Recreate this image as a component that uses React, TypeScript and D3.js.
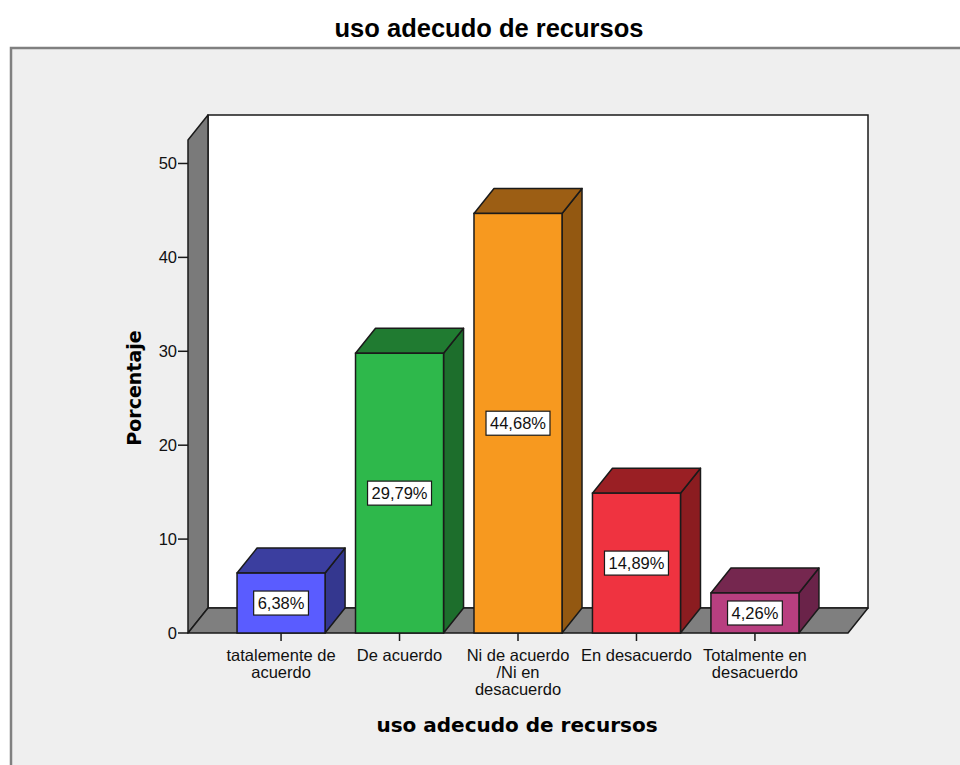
import React, { useEffect, useRef } from 'react';
import * as d3 from 'd3';

const categories = [
  ['tatalemente de', 'acuerdo'],
  ['De acuerdo'],
  ['Ni de acuerdo', '/Ni en', 'desacuerdo'],
  ['En desacuerdo'],
  ['Totalmente en', 'desacuerdo'],
];
const values = [6.38, 29.79, 44.68, 14.89, 4.26];
const valueLabels = ['6,38%', '29,79%', '44,68%', '14,89%', '4,26%'];
const yTicks = [0, 10, 20, 30, 40, 50];

// front / top / side colours per bar
const frontColors = ['#5a5cff', '#2eb84b', '#f7991f', '#ef3340', '#b83f80'];
const topColors = ['#3b3e9f', '#207b31', '#9c5e14', '#9a1f24', '#75274f'];
const sideColors = ['#34378f', '#1d6e2c', '#935811', '#8b1c20', '#6a2349'];

const App: React.FC = () => {
  const svgRef = useRef<SVGSVGElement>(null);

  useEffect(() => {
    if (!svgRef.current) return;
    const W = 960;
    const H = 765;
    const svg = d3.select(svgRef.current).attr('width', W).attr('height', H);
    svg.selectAll('*').remove();

    const left = 188;
    const right = 848;
    const base = 633;
    const top = 140;
    const dx = 20;
    const dy = -25;
    const line = '#1a1a1a';
    const small = '"Liberation Sans", Arial, sans-serif';
    const heavy = '"DejaVu Sans", sans-serif';

    const y = d3.scaleLinear().domain([0, 52.5]).range([base, top]);
    const x = d3
      .scaleBand<number>()
      .domain(d3.range(values.length))
      .range([left, right])
      .paddingInner(0.257)
      .paddingOuter(0.414);

    svg.append('rect').attr('width', W).attr('height', H).attr('fill', '#ffffff');

    // outer frame
    svg.append('rect')
      .attr('x', 11).attr('y', 48).attr('width', 1000).attr('height', 800)
      .attr('fill', '#efefef').attr('stroke', '#808080').attr('stroke-width', 2.5);

    svg.append('text')
      .attr('x', 489).attr('y', 37)
      .attr('text-anchor', 'middle')
      .attr('font-family', small)
      .attr('font-weight', 'bold').attr('font-size', 25.5)
      .attr('fill', '#000')
      .text('uso adecudo de recursos');

    // back wall
    svg.append('rect')
      .attr('x', left + dx).attr('y', top + dy)
      .attr('width', right - left).attr('height', base - top)
      .attr('fill', '#ffffff').attr('stroke', line).attr('stroke-width', 1.5);

    const poly = (pts: [number, number][]) => 'M' + pts.map(p => p.join(',')).join('L') + 'Z';

    // side wall
    svg.append('path')
      .attr('d', poly([[left, top], [left + dx, top + dy], [left + dx, base + dy], [left, base]]))
      .attr('fill', '#7a7a7a').attr('stroke', line).attr('stroke-width', 1.5).attr('stroke-linejoin', 'round');

    // floor
    svg.append('path')
      .attr('d', poly([[left, base], [right, base], [right + dx, base + dy], [left + dx, base + dy]]))
      .attr('fill', '#7f7f7f').attr('stroke', line).attr('stroke-width', 1.5).attr('stroke-linejoin', 'round');

    // y axis ticks
    const yg = svg.append('g');
    yTicks.forEach(t => {
      yg.append('line')
        .attr('x1', left - 10).attr('x2', left)
        .attr('y1', y(t)).attr('y2', y(t))
        .attr('stroke', line).attr('stroke-width', 1.5);
      yg.append('text')
        .attr('x', left - 11).attr('y', y(t)).attr('dy', '0.36em')
        .attr('text-anchor', 'end')
        .attr('font-family', small).attr('font-size', 16.5)
        .attr('fill', '#111')
        .text(t);
    });

    // bars
    const bars = svg.append('g');
    values.forEach((v, i) => {
      const x0 = x(i)!;
      const x1 = x0 + x.bandwidth();
      const yv = y(v);
      const g = bars.append('g');
      g.append('path')
        .attr('d', poly([[x1, yv], [x1 + dx, yv + dy], [x1 + dx, base + dy], [x1, base]]))
        .attr('fill', sideColors[i]).attr('stroke', line).attr('stroke-width', 1.5).attr('stroke-linejoin', 'round');
      g.append('path')
        .attr('d', poly([[x0, yv], [x0 + dx, yv + dy], [x1 + dx, yv + dy], [x1, yv]]))
        .attr('fill', topColors[i]).attr('stroke', line).attr('stroke-width', 1.5).attr('stroke-linejoin', 'round');
      g.append('rect')
        .attr('x', x0).attr('y', yv).attr('width', x1 - x0).attr('height', base - yv)
        .attr('fill', frontColors[i]).attr('stroke', line).attr('stroke-width', 1.5);

      // value label box
      const cx = (x0 + x1) / 2;
      const cy = (yv + base) / 2;
      const box = g.append('rect');
      const txt = g.append('text')
        .attr('x', cx).attr('y', cy).attr('dy', '0.36em')
        .attr('text-anchor', 'middle')
        .attr('font-family', small).attr('font-size', 16.5)
        .attr('fill', '#111')
        .text(valueLabels[i]);
      const tw = (txt.node() as SVGTextElement).getComputedTextLength();
      box.attr('x', cx - tw / 2 - 4).attr('y', cy - 12)
        .attr('width', tw + 8).attr('height', 24)
        .attr('fill', '#ffffff').attr('stroke', line).attr('stroke-width', 1.2);
    });

    // x ticks and category labels
    const xg = svg.append('g');
    categories.forEach((lines, i) => {
      const cx = x(i)! + x.bandwidth() / 2;
      xg.append('line')
        .attr('x1', cx).attr('x2', cx).attr('y1', base).attr('y2', base + 8)
        .attr('stroke', line).attr('stroke-width', 1.5);
      const t = xg.append('text')
        .attr('text-anchor', 'middle')
        .attr('font-family', small).attr('font-size', 16.5)
        .attr('fill', '#111');
      lines.forEach((l, k) => {
        t.append('tspan').attr('x', cx).attr('y', 661 + k * 17).text(l);
      });
    });

    // axis titles
    svg.append('text')
      .attr('x', 517).attr('y', 732)
      .attr('text-anchor', 'middle')
      .attr('font-family', heavy).attr('font-weight', 'bold').attr('font-size', 20)
      .attr('fill', '#000')
      .text('uso adecudo de recursos');

    svg.append('text')
      .attr('transform', 'translate(141,388) rotate(-90)')
      .attr('text-anchor', 'middle')
      .attr('font-family', heavy).attr('font-weight', 'bold').attr('font-size', 19)
      .attr('fill', '#000')
      .text('Porcentaje');
  }, []);

  return (
    <div style={{ position: 'absolute', left: 0, top: 0, width: 960, height: 765, overflow: 'hidden' }}>
      <svg ref={svgRef} style={{ display: 'block' }} />
    </div>
  );
};

export default App;
